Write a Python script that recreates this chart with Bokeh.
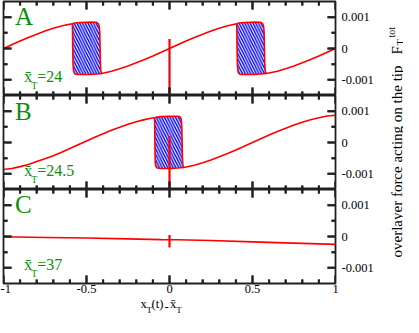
import numpy as np
from math import pi
from bokeh.plotting import figure
from bokeh.models import Range1d, LinearAxis, FixedTicker, Label, NumeralTickFormatter
from bokeh.layouts import row, column
from bokeh.embed import file_html
from bokeh.resources import INLINE

UNIT = 1e-3  # force values below are given in units of 1e-3

# ---------------- ticks ----------------
X_TICKS = [-1, -0.5, 0, 0.5, 1]
X_TICK_LABELS = ["-1", "-0.5", "0", "0.5", "1"]
X_MINOR = [-0.9, -0.8, -0.7, -0.6, -0.4, -0.3, -0.2, -0.1,
           0.1, 0.2, 0.3, 0.4, 0.6, 0.7, 0.8, 0.9]
Y_TICKS = [-0.001, 0, 0.001]
Y_TICK_LABELS = ["-0.001", "0", "0.001"]
Y_MINOR = [-0.0005, 0.0005]

PANEL_NAMES = ["A", "B", "C"]
XBAR_VALUES = ["24", "24.5", "37"]

# ---------------- panel A ----------------
A_X1 = [-1.00, -0.95, -0.90, -0.85, -0.80, -0.75, -0.70, -0.65, -0.62, -0.585]
A_F1 = [0.00, 0.12, 0.236, 0.349, 0.457, 0.556, 0.646, 0.72, 0.755, 0.79]
A_X2 = [-0.406, -0.35, -0.30, -0.25, -0.20, -0.15, -0.10, -0.05, 0.00,
        0.05, 0.10, 0.15, 0.20, 0.25, 0.30, 0.35, 0.405]
A_F2 = [-0.80, -0.724, -0.646, -0.556, -0.457, -0.349, -0.236, -0.119, 0.00,
        0.119, 0.236, 0.349, 0.457, 0.556, 0.646, 0.724, 0.79]
A_X3 = [0.584, 0.65, 0.70, 0.75, 0.80, 0.85, 0.90, 0.95, 1.00]
A_F3 = [-0.80, -0.724, -0.646, -0.556, -0.457, -0.349, -0.236, -0.119, 0.00]
A_LOOP1_X = [-0.585, -0.57, -0.54, -0.50, -0.47, -0.445, -0.435, -0.428, -0.423, -0.420,
             -0.418, -0.416, -0.414, -0.411, -0.406, -0.44, -0.48, -0.52, -0.55, -0.565,
             -0.573, -0.578, -0.581, -0.583, -0.584]
A_LOOP1_F = [0.79, 0.815, 0.83, 0.84, 0.845, 0.84, 0.82, 0.78, 0.70, 0.50,
             0.00, -0.50, -0.70, -0.77, -0.80, -0.815, -0.825, -0.83, -0.83, -0.82,
             -0.79, -0.72, -0.50, 0.00, 0.50]
A_LOOP2_X = [0.405, 0.42, 0.45, 0.49, 0.52, 0.545, 0.555, 0.562, 0.567, 0.570,
             0.572, 0.574, 0.576, 0.579, 0.584, 0.55, 0.51, 0.47, 0.44, 0.425,
             0.417, 0.412, 0.409, 0.407, 0.406]
A_LOOP2_F = [0.79, 0.815, 0.83, 0.84, 0.845, 0.84, 0.82, 0.78, 0.70, 0.50,
             0.00, -0.50, -0.70, -0.77, -0.80, -0.815, -0.825, -0.83, -0.83, -0.82,
             -0.79, -0.72, -0.50, 0.00, 0.50]
A_SPIKE_X = [0.0, 0.0]
A_SPIKE_F = [-1.5, 0.3]

# ---------------- panel B ----------------
B_X1 = [-1.00, -0.95, -0.90, -0.85, -0.80, -0.75, -0.70, -0.65, -0.60, -0.55,
        -0.50, -0.45, -0.40, -0.35, -0.30, -0.25, -0.20, -0.15, -0.12, -0.09]
B_F1 = [-0.86, -0.83, -0.77, -0.70, -0.61, -0.52, -0.42, -0.31, -0.19, -0.07,
        0.05, 0.17, 0.28, 0.39, 0.49, 0.58, 0.66, 0.73, 0.765, 0.79]
B_X2 = [0.086, 0.15, 0.20, 0.25, 0.30, 0.35, 0.40, 0.45, 0.50, 0.55,
        0.60, 0.65, 0.70, 0.75, 0.80, 0.85, 0.90, 0.95, 1.00]
B_F2 = [-0.80, -0.724, -0.646, -0.556, -0.457, -0.349, -0.236, -0.119, 0.00, 0.119,
        0.236, 0.349, 0.457, 0.556, 0.646, 0.724, 0.791, 0.844, 0.87]
B_LOOP_X = [-0.09, -0.075, -0.05, -0.01, 0.02, 0.045, 0.058, 0.066, 0.071, 0.074,
            0.076, 0.078, 0.080, 0.082, 0.086, 0.05, 0.01, -0.03, -0.06, -0.074,
            -0.081, -0.085, -0.087, -0.088, -0.089]
B_LOOP_F = [0.79, 0.81, 0.825, 0.835, 0.84, 0.84, 0.83, 0.80, 0.73, 0.50,
            0.00, -0.50, -0.70, -0.77, -0.80, -0.815, -0.825, -0.83, -0.825, -0.81,
            -0.77, -0.68, -0.40, 0.00, 0.50]
B_SPIKE_X = [0.0, 0.0]
B_SPIKE_F = [-1.5, 0.2]

# ---------------- panel C ----------------
C_X = [-1.00, -0.75, -0.50, -0.25, -0.05, 0.05, 0.25, 0.50, 0.75, 1.00]
C_F = [-0.01, -0.03, -0.05, -0.075, -0.10, -0.105, -0.13, -0.17, -0.21, -0.25]
C_SPIKE_X = [0.0, 0.0]
C_SPIKE_F = [-0.35, 0.05]

RED = "#ff0000"
GREEN = "#0b8f0b"
SERIF = "Liberation Serif"
AX = "#202020"
FW, FH = 332, 94
MAJOR_PX, MINOR_PX = 8, 4
TICK_W = 2.0

x_range = Range1d(-1, 1)
y_lo, y_hi = -0.0015, 0.0015


def f(v):
    return list(np.asarray(v) * UNIT)


def label_axis(kind, ticks, labels):
    ax = LinearAxis(ticker=FixedTicker(ticks=ticks, minor_ticks=[]))
    ax.major_tick_in = 0
    ax.major_tick_out = 0
    ax.minor_tick_in = 0
    ax.minor_tick_out = 0
    ax.axis_line_color = None
    ax.major_tick_line_color = None
    ax.minor_tick_line_color = None
    ax.formatter = NumeralTickFormatter(format="0.[000]")
    ax.major_label_overrides = dict(zip(ticks, labels))
    ax.major_label_text_font = SERIF
    ax.major_label_text_font_size = "12.5px"
    ax.major_label_text_color = "black"
    ax.major_label_standoff = 6 if kind == "y" else 1
    return ax


def add_ticks(p):
    # inward ticks on all four frame edges, drawn through the plot's scales
    dx = (x_range.end - x_range.start) / FW
    dy = (y_hi - y_lo) / FH
    x0, y0, x1, y1 = [], [], [], []
    for ticks, npx in ((X_TICKS, MAJOR_PX), (X_MINOR, MINOR_PX)):
        for t in ticks:
            x0 += [t, t]; x1 += [t, t]
            y0 += [y_lo, y_hi]; y1 += [y_lo + npx * dy, y_hi - npx * dy]
    for ticks, npx in ((Y_TICKS, MAJOR_PX), (Y_MINOR, MINOR_PX)):
        for t in ticks:
            x0 += [-1, 1]; x1 += [-1 + npx * dx, 1 - npx * dx]
            y0 += [t, t]; y1 += [t, t]
    p.segment(x0=x0, y0=y0, x1=x1, y1=y1, line_color=AX, line_width=TICK_W)
    hx, hy = TICK_W / 2 * dx, TICK_W / 2 * dy
    left = [min(a, b) - (hx if a == b else 0) for a, b in zip(x0, x1)]
    right = [max(a, b) + (hx if a == b else 0) for a, b in zip(x0, x1)]
    bottom = [min(a, b) - (hy if a == b else 0) for a, b in zip(y0, y1)]
    top = [max(a, b) + (hy if a == b else 0) for a, b in zip(y0, y1)]
    p.quad(left=left, right=right, bottom=bottom, top=top,
           fill_color=AX, line_color=None)


def make_panel(top, bottom, bottom_labels):
    p = figure(frame_width=FW, frame_height=FH, x_range=x_range,
               y_range=Range1d(y_lo, y_hi),
               output_backend="svg", toolbar_location=None,
               x_axis_location=None, y_axis_location=None,
               min_border_left=3, min_border_right=42,
               min_border_top=top, min_border_bottom=bottom,
               background_fill_color=None, border_fill_color=None)
    p.grid.visible = False
    p.outline_line_color = AX
    p.outline_line_width = 1.8
    p.add_layout(label_axis("y", Y_TICKS, Y_TICK_LABELS), "right")
    if bottom_labels:
        p.add_layout(label_axis("x", X_TICKS, X_TICK_LABELS), "below")
    return p


def add_loop(p, xs, fs):
    p.patch(xs, f(fs), fill_color="white", line_color=RED, line_width=1.6,
            hatch_pattern="\\", hatch_color="#0000ff", hatch_scale=5.5,
            hatch_weight=1.4)


def add_labels(p, name, xbar, name_y, xbar_y):
    p.add_layout(Label(x=-0.93, y=name_y, text=name, text_font=SERIF,
                       text_font_size="25px", text_color=GREEN))
    p.add_layout(Label(x=-0.875, y=xbar_y, text="x\u0304", text_font=SERIF,
                       text_font_size="16px", text_color=GREEN))
    p.add_layout(Label(x=-0.833, y=xbar_y - 0.00021, text="T", text_font=SERIF,
                       text_font_size="10px", text_color=GREEN))
    p.add_layout(Label(x=-0.797, y=xbar_y, text="=" + xbar, text_font=SERIF,
                       text_font_size="16px", text_color=GREEN))


# ---------------- panel A ----------------
pA = make_panel(1, 0, False)
add_loop(pA, A_LOOP1_X, A_LOOP1_F)
add_loop(pA, A_LOOP2_X, A_LOOP2_F)
pA.multi_line([A_X1, A_X2, A_X3], [f(A_F1), f(A_F2), f(A_F3)],
              line_color=RED, line_width=1.6)
pA.line(A_SPIKE_X, f(A_SPIKE_F), line_color=RED, line_width=2.2)
pA.line(A_SPIKE_X, f([-1.45, 0.0]), line_color="#5a1aa0", line_width=1,
        line_dash="1 2", line_alpha=0.8)
add_ticks(pA)
add_labels(pA, PANEL_NAMES[0], XBAR_VALUES[0], 0.0006, -0.00116)

# ---------------- panel B ----------------
pB = make_panel(0, 0, False)
add_loop(pB, B_LOOP_X, B_LOOP_F)
pB.multi_line([B_X1, B_X2], [f(B_F1), f(B_F2)], line_color=RED, line_width=1.6)
pB.line(B_SPIKE_X, f(B_SPIKE_F), line_color=RED, line_width=2.2)
add_ticks(pB)
add_labels(pB, PANEL_NAMES[1], XBAR_VALUES[1], 0.00055, -0.00116)

# ---------------- panel C ----------------
pC = make_panel(0, 16, True)
pC.line(C_X, f(C_F), line_color=RED, line_width=1.6)
pC.line(C_SPIKE_X, f(C_SPIKE_F), line_color=RED, line_width=2.2)
add_ticks(pC)
add_labels(pC, PANEL_NAMES[2], XBAR_VALUES[2], 0.0006, -0.00116)

# ---------------- x-axis title: x_T(t) - x̄_T (aligned on the shared x scale) ----------------
pX = figure(frame_width=FW, frame_height=17, x_range=x_range, y_range=Range1d(0, 17),
            output_backend="svg", toolbar_location=None,
            x_axis_location=None, y_axis_location=None,
            min_border_left=3, min_border_right=42, min_border_top=0, min_border_bottom=0,
            background_fill_color=None, border_fill_color=None)
pX.grid.visible = False
pX.outline_line_color = None
xl_parts = [("x", -29, 5.5, "12.5px"), ("T", -23, 2, "9px"),
            ("(t)", -18, 5.5, "12.5px"), ("-", -5, 5.5, "12.5px"),
            ("x\u0304", 0.5, 5.5, "12.5px"), ("T", 6.8, 2, "9px")]
for txt, dx, yy, fs in xl_parts:
    pX.add_layout(Label(x=0, y=yy, x_offset=dx, text=txt, text_font=SERIF,
                        text_font_size=fs, text_color="black"))

# ---------------- right-hand title ----------------
pl = figure(width=26, height=316, x_range=Range1d(0, 26), y_range=Range1d(0, 316),
            output_backend="svg", toolbar_location=None,
            x_axis_location=None, y_axis_location=None, min_border=0,
            background_fill_color=None, border_fill_color=None)
pl.grid.visible = False
pl.outline_line_color = None
pl.add_layout(Label(x=19, y=251, text="overlayer force acting on the tip", angle=pi / 2,
                    text_align="right", text_baseline="alphabetic", text_font=SERIF,
                    text_font_size="15px", text_color="black"))
pl.add_layout(Label(x=19, y=262, text="F", angle=pi / 2, text_align="left",
                    text_baseline="alphabetic", text_font=SERIF,
                    text_font_size="15px", text_color="black"))
pl.add_layout(Label(x=22.5, y=271, text="T", angle=pi / 2, text_align="left",
                    text_baseline="alphabetic", text_font=SERIF,
                    text_font_size="10px", text_color="black"))
pl.add_layout(Label(x=14, y=279, text="tot", angle=pi / 2, text_align="left",
                    text_baseline="alphabetic", text_font=SERIF,
                    text_font_size="10px", text_color="black"))

layout = row(column(pA, pB, pC, pX), pl)
open("out.html", "w").write(file_html(layout, INLINE))
